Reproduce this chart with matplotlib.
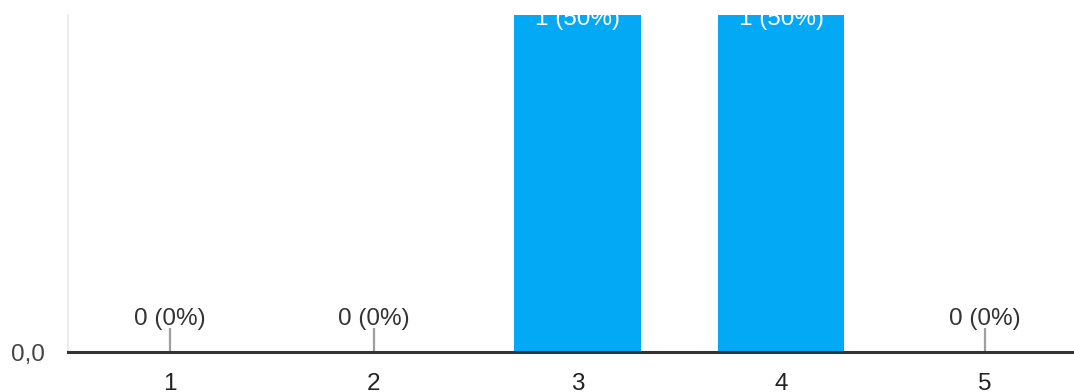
import matplotlib
matplotlib.use('Agg')
import matplotlib.pyplot as plt

# chart data
categories = ['1', '2', '3', '4', '5']
counts = [0, 0, 1, 1, 0]
ytick_vals = [0]
ytick_labels = ['0,0']

total = sum(counts)
labels = [f"{c} ({round(100 * c / total)}%)" for c in counts]
xs = list(range(1, len(categories) + 1))

plt.rcParams['font.family'] = ['Liberation Sans', 'DejaVu Sans']

fig = plt.figure(figsize=(10.74, 3.92), dpi=100)
# axes runs past the right edge, as in the cropped reference
ax = fig.add_axes([68 / 1074, 40 / 392, 1019 / 1074, 337 / 392])

bar_color = '#03A9F4'
ax.bar(xs, counts, width=0.62, color=bar_color, zorder=2)

for x, c, lab in zip(xs, counts, labels):
    if c > 0:
        ax.text(x, c - 0.012, lab, ha='center', va='center', color='white',
                fontsize=17.5, zorder=3, clip_on=False)
    else:
        ax.vlines(x, 0, 0.071, color='#9e9e9e', lw=1.6, zorder=2)
        ax.text(x, 0.097, lab, ha='center', va='center', color='#333333',
                fontsize=17.5, zorder=3)

ax.set_xlim(0.5, 5.5)
ax.set_ylim(0, 1)
ax.set_xticks(xs)
ax.set_xticklabels(categories)
ax.set_yticks(ytick_vals)
ax.set_yticklabels(ytick_labels)
ax.tick_params(axis='x', length=0, pad=15, labelsize=17.5, labelcolor='#222222')
ax.tick_params(axis='y', length=0, pad=17, labelsize=17.5, labelcolor='#444444')

for s in ['top', 'right']:
    ax.spines[s].set_visible(False)
ax.spines['left'].set_color('#ebebeb')
ax.spines['left'].set_linewidth(1.4)
ax.spines['bottom'].set_color('#333333')
ax.spines['bottom'].set_linewidth(2.2)
ax.spines['bottom'].set_zorder(4)

fig.savefig('out.png', dpi=100)
